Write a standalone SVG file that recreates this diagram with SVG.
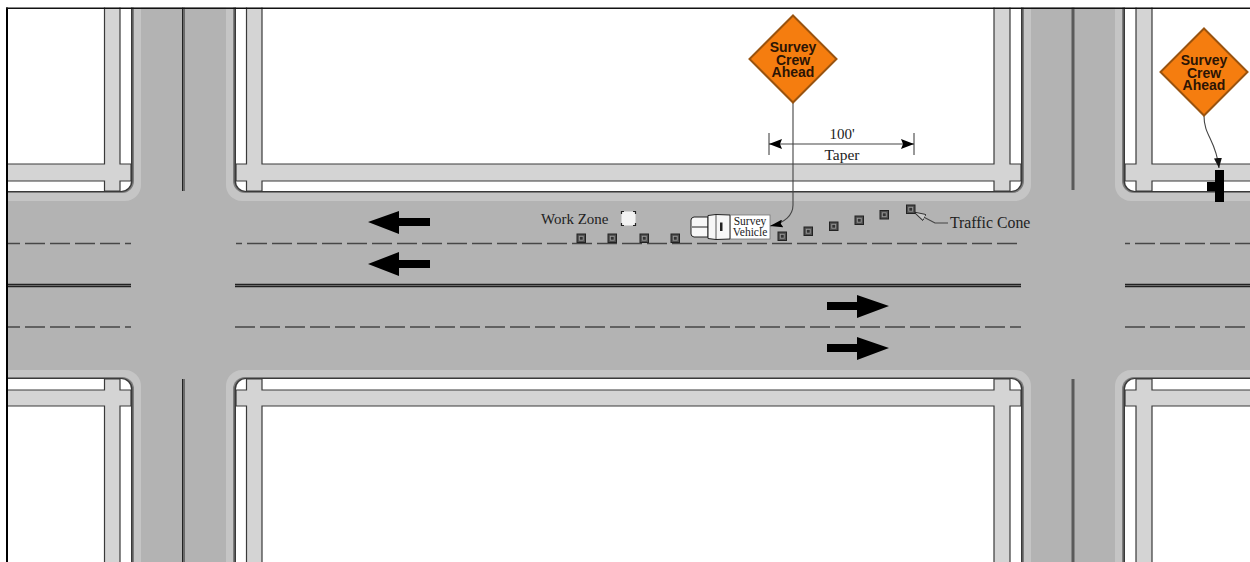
<svg xmlns="http://www.w3.org/2000/svg" width="1250" height="562" viewBox="0 0 1250 562">
<style>
.gut{fill:#c5c5c5}
.curb2{fill:#7d7d7d}
.curb1{fill:#3a3a3a}
.lot{fill:#fff}
.walk{fill:#d4d4d4;stroke:#3a3a3a;stroke-width:1.2}
.dash{fill:none;stroke:#474747;stroke-width:1.5;stroke-dasharray:20 5}
.lane{fill:#000}
.lead{fill:none;stroke:#444;stroke-width:1.1}
.sign{fill:#f57d0f;stroke:#99530f;stroke-width:2}
.st{font-family:"Liberation Sans",Arial,sans-serif;font-weight:700;font-size:14px;fill:#2b1405;text-anchor:middle}
.lb{font-family:"Liberation Serif","Times New Roman",serif;font-size:15px;fill:#222}
.mid{text-anchor:middle}
.truck{fill:#f7f7f7;stroke:#222;stroke-width:1}
</style>
<defs>
<marker id="ah" viewBox="0 0 13 8" refX="13" refY="4" markerWidth="13" markerHeight="8" markerUnits="userSpaceOnUse" orient="auto"><path d="M0 0L13 4L0 8L2 4Z" fill="#000"/></marker>
<marker id="ahs" viewBox="0 0 10 8" refX="10" refY="4" markerWidth="10" markerHeight="8" markerUnits="userSpaceOnUse" orient="auto"><path d="M0 0L10 4L0 8Z" fill="#111"/></marker>
<marker id="ho" viewBox="0 0 12 8" refX="12" refY="4" markerWidth="12" markerHeight="8" markerUnits="userSpaceOnUse" orient="auto"><path d="M0 0.5L12 4L0 7.5Z" fill="#c8c8c8" stroke="#333" stroke-width="1"/></marker>
<g id="cone"><rect x="-4" y="-4" width="8.500" height="8.500" fill="#4d4d4d" stroke="#222" stroke-width="1"/><rect x="-1.700" y="-1.700" width="3.900" height="3.900" fill="#333" stroke="#9a9a9a" stroke-width="0.900"/></g>
</defs>

<rect id="road" x="0" y="0" width="1250" height="562" fill="#b3b3b3"/>

<g id="block-top-left">
<rect class="gut" x="-50" y="-50" width="191" height="251" rx="16"/>
<rect class="curb2" x="-50" y="-50" width="184" height="243" rx="12"/>
<rect class="curb1" x="-50" y="-50" width="182.500" height="242" rx="11"/>
<rect class="lot" x="-50" y="-50" width="181" height="241" rx="10"/>
<path class="walk" d="M-10 164H104.500V-10H120V164H131V181H120V191H104.500V181H-10Z"/>
</g>
<g id="block-top-center">
<rect class="gut" x="226" y="-50" width="805" height="251" rx="16"/>
<rect class="curb2" x="233" y="-50" width="791" height="243" rx="12"/>
<rect class="curb1" x="234.500" y="-50" width="788" height="242" rx="11"/>
<rect class="lot" x="236" y="-50" width="785" height="241" rx="10"/>
<path class="walk" d="M246.500 -10H262V164H994V-10H1010V164H1021V181H1010V191H994V181H262V191H246.500V181H236V164H246.500Z"/>
</g>
<g id="block-top-right">
<rect class="gut" x="1115" y="-50" width="200" height="251" rx="16"/>
<rect class="curb2" x="1122" y="-50" width="200" height="243" rx="12"/>
<rect class="curb1" x="1123.500" y="-50" width="200" height="242" rx="11"/>
<rect class="lot" x="1125" y="-50" width="200" height="241" rx="10"/>
<path class="walk" d="M1136 -10H1152V164H1260V181H1152V191H1136V181H1125V164H1136Z"/>
</g>
<g id="block-bottom-left">
<rect class="gut" x="-50" y="370" width="191" height="250" rx="16"/>
<rect class="curb2" x="-50" y="377" width="184" height="243" rx="12"/>
<rect class="curb1" x="-50" y="378" width="182.500" height="242" rx="11"/>
<rect class="lot" x="-50" y="379" width="181" height="241" rx="10"/>
<path class="walk" d="M-10 390H104.500V379H120V390H131V406H120V570H104.500V406H-10Z"/>
</g>
<g id="block-bottom-center">
<rect class="gut" x="226" y="370" width="805" height="250" rx="16"/>
<rect class="curb2" x="233" y="377" width="791" height="243" rx="12"/>
<rect class="curb1" x="234.500" y="378" width="788" height="242" rx="11"/>
<rect class="lot" x="236" y="379" width="785" height="241" rx="10"/>
<path class="walk" d="M246.500 379H262V390H994V379H1010V390H1021V406H1010V570H994V406H262V570H246.500V406H236V390H246.500Z"/>
</g>
<g id="block-bottom-right">
<rect class="gut" x="1115" y="370" width="200" height="250" rx="16"/>
<rect class="curb2" x="1122" y="377" width="200" height="243" rx="12"/>
<rect class="curb1" x="1123.500" y="378" width="200" height="242" rx="11"/>
<rect class="lot" x="1125" y="379" width="200" height="241" rx="10"/>
<path class="walk" d="M1136 379H1152V390H1260V406H1152V570H1136V406H1125V390H1136Z"/>
</g>

<g id="markings">
<path d="M182.500 0V191M184 0V191M182.500 379V570M184 379V570" fill="none" stroke="#222" stroke-width="1"/>
<path d="M1073 0V190M1073 379V570" fill="none" stroke="#5a5a5a" stroke-width="3"/>
<path d="M0 284.500H131M235 284.500H1021M1125 284.500H1250M0 286.500H131M235 286.500H1021M1125 286.500H1250" fill="none" stroke="#222" stroke-width="1.300"/>
<path class="dash" d="M0 243.500H131M0 327H131"/>
<path class="dash" d="M236 243.500H1021" stroke-dashoffset="14"/>
<path class="dash" d="M235 327H1021"/>
<path class="dash" d="M1125 243.500H1250" stroke-dashoffset="15"/>
<path class="dash" d="M1125 327H1250"/>
<path class="lane" d="M368 222L399 211V218H430V226H399V234Z"/>
<path class="lane" d="M368 264L399 252V260H430V268H399V276Z"/>
<path class="lane" d="M889 306L857 295V302H827V310H857V318Z"/>
<path class="lane" d="M889 348L857 337V344H827V352H857V360Z"/>
</g>

<g id="frame">
<rect x="0" y="0" width="6" height="562" fill="#fff"/>
<rect x="0" y="0" width="1250" height="7.500" fill="#fff"/>
<rect x="6" y="7.500" width="2" height="554.500" fill="#000"/>
<rect x="6" y="7.500" width="1244" height="1.500" fill="#111"/>
</g>

<g id="connectors">
<path class="lead" d="M793 103V205C793 215 785 223 770 226" marker-end="url(#ah)"/>
<path class="lead" d="M1204 116C1204 136 1216 140 1219 168" marker-end="url(#ahs)"/>
<path class="lead" d="M948 223H935L914 212" marker-end="url(#ho)"/>
<path class="lead" d="M769 144H914" stroke="#333"/>
<path d="M769 133V155M914 133V155" fill="none" stroke="#333" stroke-width="1"/>
<path d="M769 144L782 139L780 144L782 149Z M914 144L901 139L903 144L901 149Z" fill="#000"/>
</g>

<g id="sign-1">
<path class="sign" d="M793 15.500L836.500 59L793 102.500L749.500 59Z"/>
<text class="st"><tspan x="793" y="52">Survey</tspan><tspan x="793" y="64.500">Crew</tspan><tspan x="793" y="77">Ahead</tspan></text>
</g>
<g id="sign-2">
<path class="sign" d="M1204 28.500L1247.500 72L1204 115.500L1160.500 72Z"/>
<text class="st"><tspan x="1204" y="65">Survey</tspan><tspan x="1204" y="77.500">Crew</tspan><tspan x="1204" y="90">Ahead</tspan></text>
</g>

<g id="dimension-label">
<text class="lb mid" x="842" y="139">100'</text>
<text class="lb mid" x="842" y="160" style="font-size:15.500px">Taper</text>
</g>

<g id="work-zone">
<text class="lb" x="541" y="224">Work Zone</text>
<rect x="621.500" y="211.500" width="14" height="14" fill="#f3f3f3" stroke="#222" stroke-width="1.200" stroke-dasharray="5 9" stroke-dashoffset="2.500"/>
</g>

<g id="survey-vehicle">
<path class="truck" d="M708 217H694Q691 217.500 691 220V234Q691 236.500 694 237H708Z"/>
<path d="M692 227H708" stroke="#222" stroke-width="1" fill="none"/>
<path class="truck" d="M708 215.500L716 214.500L730 215V239L716 239.500L708 238.500Z"/>
<path d="M716 215V239" stroke="#555" stroke-width="1" fill="none"/>
<rect x="720" y="222.500" width="2.500" height="8.500" fill="#222"/>
<rect x="730.500" y="215" width="39.500" height="24" fill="#fff" stroke="#777" stroke-width="0.800"/>
<text class="lb mid" x="750" y="225" style="font-size:11.500px">Survey</text>
<text class="lb mid" x="750" y="236" style="font-size:11.500px">Vehicle</text>
</g>

<g id="cones">
<use href="#cone" x="581" y="238"/>
<use href="#cone" x="612" y="238"/>
<use href="#cone" x="644" y="238"/>
<use href="#cone" x="675" y="238"/>
<use href="#cone" x="782" y="236"/>
<use href="#cone" x="808" y="231"/>
<use href="#cone" x="833.500" y="226"/>
<use href="#cone" x="859" y="220"/>
<use href="#cone" x="884" y="214.500"/>
<use href="#cone" x="910.500" y="209"/>
</g>

<g id="traffic-cone-label">
<text class="lb" x="950" y="228" style="font-size:15.800px">Traffic Cone</text>
</g>

<g id="crew-truck">
<rect x="1215" y="170" width="9" height="32" fill="#000"/>
<rect x="1207" y="182" width="8" height="9" fill="#000"/>
</g>
</svg>
